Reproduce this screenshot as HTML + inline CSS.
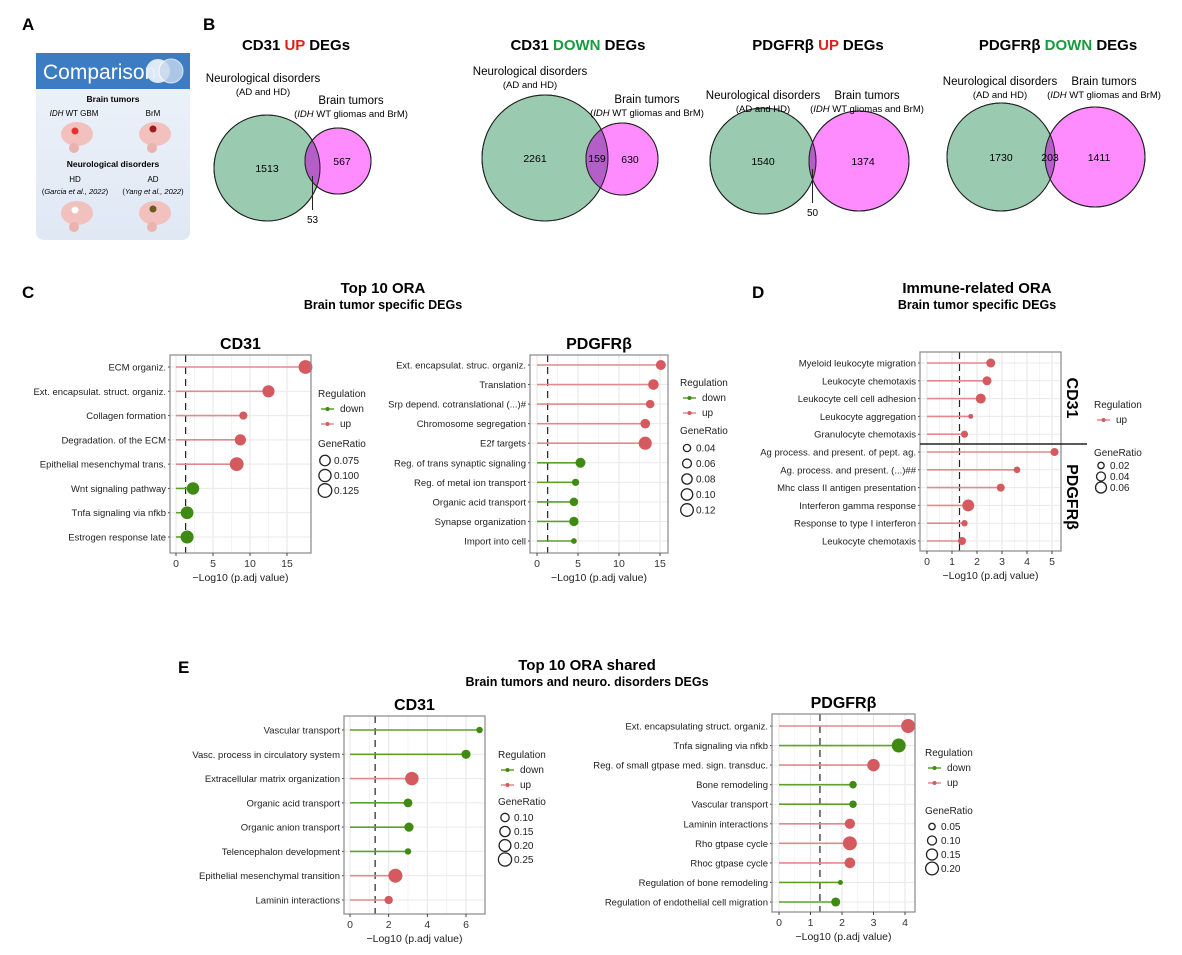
<!DOCTYPE html>
<html><head><meta charset="utf-8">
<style>
html,body{margin:0;padding:0;background:#fff;}
svg{display:block;font-family:"Liberation Sans",Arial,sans-serif;}
</style></head>
<body>
<svg id="fig" width="1182" height="955" viewBox="0 0 1182 955" xmlns="http://www.w3.org/2000/svg">
<defs>
<linearGradient id="abg" x1="0" y1="0" x2="0" y2="1"><stop offset="0" stop-color="#eef3fa"/><stop offset="1" stop-color="#dfe8f4"/></linearGradient>
</defs>
<!-- Panel A -->
<g>
<text x="22" y="30" font-size="17" font-weight="bold">A</text>
<rect x="36" y="53" width="154" height="187" rx="8" fill="url(#abg)"/>
<rect x="36" y="53" width="154" height="36" fill="#3b7cc3"/>
<text x="43" y="79" font-size="21" fill="#fff">Comparison</text>
<circle cx="158" cy="71" r="12" fill="#e8eef8" opacity="0.95"/><circle cx="171" cy="71" r="12" fill="#c9d9ee" opacity="0.8" stroke="#fff"/>
<text x="113" y="102" font-size="8.5" font-weight="bold" text-anchor="middle">Brain tumors</text>
<text x="74" y="116" font-size="8" text-anchor="middle"><tspan font-style="italic">IDH</tspan> WT GBM</text>
<text x="153" y="116" font-size="8" text-anchor="middle">BrM</text>
<g><ellipse cx="77" cy="134" rx="16" ry="12" fill="#f2c1bd"/><ellipse cx="74" cy="148" rx="5" ry="5" fill="#eab3ae"/><circle cx="75" cy="131" r="3.5" fill="#e53030"/></g>
<g><ellipse cx="155" cy="134" rx="16" ry="12" fill="#f2c1bd"/><ellipse cx="152" cy="148" rx="5" ry="5" fill="#eab3ae"/><circle cx="153" cy="129" r="3.5" fill="#a01c1c"/></g>
<text x="113" y="167" font-size="8.5" font-weight="bold" text-anchor="middle">Neurological disorders</text>
<text x="75" y="182" font-size="8" text-anchor="middle">HD</text>
<text x="75" y="194" font-size="7.5" text-anchor="middle">(<tspan font-style="italic">Garcia et al., 2022</tspan>)</text>
<text x="153" y="182" font-size="8" text-anchor="middle">AD</text>
<text x="153" y="194" font-size="7.5" text-anchor="middle">(<tspan font-style="italic">Yang et al., 2022</tspan>)</text>
<g><ellipse cx="77" cy="213" rx="16" ry="12" fill="#f2c1bd"/><ellipse cx="74" cy="227" rx="5" ry="5" fill="#eab3ae"/><circle cx="75" cy="210" r="3.5" fill="#fff"/></g>
<g><ellipse cx="155" cy="213" rx="16" ry="12" fill="#f2c1bd"/><ellipse cx="152" cy="227" rx="5" ry="5" fill="#eab3ae"/><circle cx="153" cy="209" r="3.5" fill="#6b5a1a"/></g>
</g>
<g id="venns">
<text x="203" y="30" font-size="17" font-weight="bold">B</text>
</g>
<g id="plots"></g>
</svg>
<script>
const NS='http://www.w3.org/2000/svg';
const svg=document.getElementById('fig');
function el(tag,attrs,parent,txt){const e=document.createElementNS(NS,tag);for(const k in attrs)e.setAttribute(k,attrs[k]);if(txt!==undefined)e.textContent=txt;(parent||svg).appendChild(e);return e;}

/* ---------- Venn data ---------- */
const vennTitles=['CD31','CD31','PDGFRβ','PDGFRβ'];
const vennDir=['UP','DOWN','UP','DOWN'];
const vennNeuro=[1513,2261,1540,1730];
const vennShared=[53,159,50,203];
const vennTumor=[567,630,1374,1411];

const vennLayout=[
 {tx:296,ty:50,g:[267,168,53],p:[338,161,33],nl:[263,82],bl:[351,104],callout:true},
 {tx:578,ty:50,g:[545,158,63],p:[622,159,36],nl:[530,75],bl:[647,103],callout:false},
 {tx:818,ty:50,g:[763,161,53],p:[859,161,50],nl:[763,99],bl:[867,99],callout:true},
 {tx:1058,ty:50,g:[1001,157,54],p:[1095,157,50],nl:[1000,85],bl:[1104,85],callout:false}
];
const vg=document.getElementById('venns');
vennTitles.forEach((t,i)=>{
  const L=vennLayout[i];
  const g=el('g',{},vg);
  
  
  const tt=el('text',{x:L.tx,y:L.ty,'font-size':15,'font-weight':'bold','text-anchor':'middle'},g);
  
  
  el('tspan',{},tt,t+' ');
  el('tspan',{fill:vennDir[i]==='UP'?'#e0201c':'#1a9a40'},tt,vennDir[i]);
  el('tspan',{},tt,' DEGs');
  const c1=el('circle',{cx:L.g[0],cy:L.g[1],r:L.g[2],fill:'#8fc4a6',stroke:'#222','stroke-width':1,'fill-opacity':0.9},g);
  
  
  const c2=el('circle',{cx:L.p[0],cy:L.p[1],r:L.p[2],fill:'#ff66ff',stroke:'#222','stroke-width':1,'fill-opacity':0.75},g);
  
  
  // overlap region via clip
  const cid='clip'+i;
  const cp=el('clipPath',{id:cid},g);el('circle',{cx:L.g[0],cy:L.g[1],r:L.g[2]},cp);
  el('circle',{cx:L.p[0],cy:L.p[1],r:L.p[2],fill:'#b45ec8','clip-path':'url(#'+cid+')',stroke:'none'},g);
  el('circle',{cx:L.g[0],cy:L.g[1],r:L.g[2],fill:'none',stroke:'#222'},g);
  el('circle',{cx:L.p[0],cy:L.p[1],r:L.p[2],fill:'none',stroke:'#222'},g);
  el('text',{x:L.nl[0],y:L.nl[1],'font-size':11.5,'text-anchor':'middle'},g,'Neurological disorders');
  el('text',{x:L.nl[0],y:L.nl[1]+13,'font-size':9.5,'text-anchor':'middle'},g,'(AD and HD)');
  el('text',{x:L.bl[0],y:L.bl[1],'font-size':11.5,'text-anchor':'middle'},g,'Brain tumors');
  const it=el('text',{x:L.bl[0],y:L.bl[1]+13,'font-size':9.5,'text-anchor':'middle'},g);
  el('tspan',{},it,'(');el('tspan',{'font-style':'italic'},it,'IDH');el('tspan',{},it,' WT gliomas and BrM)');
  const gx=L.g[0]-L.g[2]*0.35, px=L.p[0]+L.p[2]*0.1;
  el('text',{x:L.g[0]-(i===1?10:0),y:L.g[1]+4,'font-size':10.5,'text-anchor':'middle'},g,vennNeuro[i]);
  el('text',{x:L.p[0]+(i===1?8:4),y:L.p[1]+4,'font-size':10.5,'text-anchor':'middle'},g,vennTumor[i]);
  const ox=(L.g[0]+L.g[2]+L.p[0]-L.p[2])/2;
  if(L.callout){
    el('line',{x1:ox,y1:L.g[1]+8,x2:ox,y2:L.g[1]+42,stroke:'#222','stroke-width':1},g);
    el('text',{x:ox,y:L.g[1]+55,'font-size':10,'text-anchor':'middle'},g,vennShared[i]);
  } else {
    el('text',{x:ox,y:L.g[1]+4,'font-size':10.5,'text-anchor':'middle'},g,vennShared[i]);
  }
});

/* ---------- Lollipop data ---------- */
const cCd31Terms=['ECM organiz.','Ext. encapsulat. struct. organiz.','Collagen formation','Degradation. of the ECM','Epithelial mesenchymal trans.','Wnt signaling pathway','Tnfa signaling via nfkb','Estrogen response late'];
const cCd31Values=[17.5,12.5,9.1,8.7,8.2,2.3,1.5,1.5];
const cCd31Ratio=[0.13,0.10,0.045,0.085,0.13,0.105,0.11,0.115];
const cCd31Reg=['up','up','up','up','up','down','down','down'];
const cCd31Ticks=[0,5,10,15];
const cCd31LegendRatio=[0.075,0.100,0.125];

const cPdgTerms=['Ext. encapsulat. struc. organiz.','Translation','Srp depend. cotranslational (...)#','Chromosome segregation','E2f targets','Reg. of trans synaptic signaling','Reg. of metal ion transport','Organic acid transport','Synapse organization','Import into cell'];
const cPdgValues=[15.1,14.2,13.8,13.2,13.2,5.3,4.7,4.5,4.5,4.5];
const cPdgRatio=[0.075,0.085,0.055,0.07,0.13,0.075,0.04,0.055,0.065,0.025];
const cPdgReg=['up','up','up','up','up','down','down','down','down','down'];
const cPdgTicks=[0,5,10,15];
const cPdgLegendRatio=[0.04,0.06,0.08,0.10,0.12];

const dTerms=['Myeloid leukocyte migration','Leukocyte chemotaxis','Leukocyte cell cell adhesion','Leukocyte aggregation','Granulocyte chemotaxis','Ag process. and present. of pept. ag.','Ag. process. and present. (...)##','Mhc class II antigen presentation','Interferon gamma response','Response to type I interferon','Leukocyte chemotaxis'];
const dValues=[2.55,2.4,2.15,1.75,1.5,5.1,3.6,2.95,1.65,1.5,1.4];
const dRatio=[0.04,0.04,0.05,0.012,0.025,0.032,0.022,0.032,0.07,0.02,0.032];
const dReg=['up','up','up','up','up','up','up','up','up','up','up'];
const dTicks=[0,1,2,3,4,5];
const dLegendRatio=[0.02,0.04,0.06];

const eCd31Terms=['Vascular transport','Vasc. process in circulatory system','Extracellular matrix organization','Organic acid transport','Organic anion transport','Telencephalon development','Epithelial mesenchymal transition','Laminin interactions'];
const eCd31Values=[6.7,6.0,3.2,3.0,3.05,3.0,2.35,2.0];
const eCd31Ratio=[0.06,0.12,0.26,0.11,0.12,0.06,0.28,0.1];
const eCd31Reg=['down','down','up','down','down','down','up','up'];
const eCd31Ticks=[0,2,4,6];
const eCd31LegendRatio=[0.10,0.15,0.20,0.25];

const ePdgTerms=['Ext. encapsulating struct. organiz.','Tnfa signaling via nfkb','Reg. of small gtpase med. sign. transduc.','Bone remodeling','Vascular transport','Laminin interactions','Rho gtpase cycle','Rhoc gtpase cycle','Regulation of bone remodeling','Regulation of endothelial cell migration'];
const ePdgValues=[4.1,3.8,3.0,2.35,2.35,2.25,2.25,2.25,1.95,1.8];
const ePdgRatio=[0.24,0.24,0.19,0.07,0.07,0.13,0.24,0.14,0.03,0.1];
const ePdgReg=['up','down','up','down','down','up','up','up','down','down'];
const ePdgTicks=[0,1,2,3,4];
const ePdgLegendRatio=[0.05,0.10,0.15,0.20];

const UPC='#d45a5f', DNC='#3f8a12', UPL='#e08a8d', DNL='#5da02a';

function lollipop(o){
  const g=el('g',{});
  
  
  const xs=v=>o.x0+(v-o.dmin)/(o.dmax-o.dmin)*(o.x1-o.x0);
  const n=o.terms.length;
  const ys=i=>o.yFirst+i*(o.yLast-o.yFirst)/(n-1);
  const rs=v=>o.rmax*Math.sqrt(v/o.vmax);
  el('rect',{x:o.bx0,y:o.by0,width:o.bx1-o.bx0,height:o.by1-o.by0,fill:'#fff'},g);
  // grid
  for(let k=0;k<o.ticks.length;k++){
    const t=o.ticks[k];
    el('line',{x1:xs(t),x2:xs(t),y1:o.by0,y2:o.by1,stroke:'#e6e6e6','stroke-width':1},g);
    if(k<o.ticks.length-1){const m=(t+o.ticks[k+1])/2;el('line',{x1:xs(m),x2:xs(m),y1:o.by0,y2:o.by1,stroke:'#f1f1f1','stroke-width':0.8},g);}
  }
  for(let i=0;i<n;i++) el('line',{x1:o.bx0,x2:o.bx1,y1:ys(i),y2:ys(i),stroke:'#e9e9e9','stroke-width':1},g);
  // dashed threshold
  const dl=el('line',{x1:xs(1.3),x2:xs(1.3),y1:o.by0,y2:o.by1,stroke:'#222','stroke-width':1.2,'stroke-dasharray':'7,5'},g);
  
  
  for(let i=0;i<n;i++){
    const up=o.reg[i]==='up';
    const ln=el('line',{x1:xs(0),x2:xs(o.values[i]),y1:ys(i),y2:ys(i),stroke:up?UPL:DNL,'stroke-width':1.6},g);
    
    
    const c=el('circle',{cx:xs(o.values[i]),cy:ys(i),r:rs(o.ratio[i]),fill:up?UPC:DNC},g);
    
    
    const lb=el('text',{x:o.bx0-4,y:ys(i)+3.5,'font-size':o.fs,'text-anchor':'end',fill:'#222'},g,o.terms[i]);
    
    
    el('line',{x1:o.bx0-2,x2:o.bx0,y1:ys(i),y2:ys(i),stroke:'#444'},g);
  }
  el('rect',{x:o.bx0,y:o.by0,width:o.bx1-o.bx0,height:o.by1-o.by0,fill:'none',stroke:'#888','stroke-width':1.2},g);
  if(o.divider!==undefined){
    const dv=el('line',{x1:o.bx0,x2:o.bx1+26,y1:o.divider,y2:o.divider,stroke:'#222','stroke-width':1.5},g);
    
    
  }
  o.ticks.forEach(t=>{
    el('line',{x1:xs(t),x2:xs(t),y1:o.by1,y2:o.by1+3,stroke:'#444'},g);
    const tl=el('text',{x:xs(t),y:o.by1+14,'font-size':10.5,'text-anchor':'middle',fill:'#333'},g,t);
    
    
  });
  const xt=el('text',{x:(o.bx0+o.bx1)/2,y:o.by1+28,'font-size':10.5,'text-anchor':'middle',fill:'#222'},g,'\u2212Log10 (p.adj value)');
  
  
  if(o.title){
    const tt=el('text',{x:(o.bx0+o.bx1)/2,y:o.by0-6,'font-size':16,'font-weight':'bold','text-anchor':'middle'},g,o.title);
    
    
  }
  // legend
  const L=o.leg;
  const lg=el('g',{},g);
  
  
  el('text',{x:L.x,y:L.y,'font-size':10,fill:'#222'},lg,'Regulation');
  let yy=L.y+15;
  o.legRegs.forEach(r=>{
    const col=r==='up'?UPL:DNL, pc=r==='up'?UPC:DNC;
    el('line',{x1:L.x+3,x2:L.x+16,y1:yy-3,y2:yy-3,stroke:col,'stroke-width':1.5},lg);
    el('circle',{cx:L.x+9.5,cy:yy-3,r:2,fill:pc},lg);
    const e=el('text',{x:L.x+22,y:yy,'font-size':10,fill:'#222'},lg,r);
    
    
    yy+=15;
  });
  yy+=L.gap;
  el('text',{x:L.x,y:yy,'font-size':10,fill:'#222'},lg,'GeneRatio');
  yy+=L.step+2;
  o.legRatio.forEach(v=>{
    el('circle',{cx:L.x+7,cy:yy-3.5,r:rs(v),fill:'none',stroke:'#222','stroke-width':1.3},lg);
    const e=el('text',{x:L.x+16,y:yy,'font-size':10,fill:'#222'},lg,o.legFmt?v.toFixed(o.legFmt):v);
    
    
    yy+=L.step;
  });
  return g;
}

function txt(x,y,s,fs,w,name,anchor){const t=el('text',{x:x,y:y,'font-size':fs,'font-weight':w||'normal','text-anchor':anchor||'middle'},svg,s);
  
  return t;}

// Panel C
txt(22,298,'C',17,'bold','panel-label-c','start');
txt(383,293,'Top 10 ORA',15,'bold','panel-c-title');
txt(383,309,'Brain tumor specific DEGs',12.5,'bold','panel-c-subtitle');
lollipop({name:'c-cd31-plot',title:'CD31',terms:cCd31Terms,values:cCd31Values,ratio:cCd31Ratio,reg:cCd31Reg,ticks:cCd31Ticks,legRatio:cCd31LegendRatio,legFmt:3,legRegs:['down','up'],
 bx0:170,bx1:311,by0:355,by1:553,dmin:0,dmax:15,x0:176,x1:287,yFirst:367,yLast:537,vmax:0.125,rmax:6.8,fs:9.5,
 leg:{x:318,y:397,gap:5,step:15}});
lollipop({name:'c-pdgfrb-plot',title:'PDGFRβ',terms:cPdgTerms,values:cPdgValues,ratio:cPdgRatio,reg:cPdgReg,ticks:cPdgTicks,legRatio:cPdgLegendRatio,legFmt:2,legRegs:['down','up'],
 bx0:530,bx1:668,by0:355,by1:553,dmin:0,dmax:15,x0:537,x1:660,yFirst:365,yLast:541,vmax:0.12,rmax:6.3,fs:9.5,
 leg:{x:680,y:386,gap:3,step:15.5}});

// Panel D
txt(752,298,'D',17,'bold','panel-label-d','start');
txt(977,293,'Immune-related ORA',15,'bold','panel-d-title');
txt(977,309,'Brain tumor specific DEGs',12.5,'bold','panel-d-subtitle');
lollipop({name:'d-immune-plot',terms:dTerms,values:dValues,ratio:dRatio,reg:dReg,ticks:dTicks,legRatio:dLegendRatio,legFmt:2,legRegs:['up'],
 bx0:920,bx1:1061,by0:352,by1:551,dmin:0,dmax:5,x0:927,x1:1052,yFirst:363,yLast:541,vmax:0.06,rmax:5.5,fs:9.5,divider:444,
 leg:{x:1094,y:408,gap:18,step:11}});
(function(){const a=el('text',{x:0,y:0,'font-size':16,'font-weight':'bold','text-anchor':'middle',transform:'translate(1067,398) rotate(90)'},svg,'CD31');


const b=el('text',{x:0,y:0,'font-size':16,'font-weight':'bold','text-anchor':'middle',transform:'translate(1067,497) rotate(90)'},svg,'PDGFRβ');

})();

// Panel E
txt(178,673,'E',17,'bold','panel-label-e','start');
txt(587,670,'Top 10 ORA shared',15,'bold','panel-e-title');
txt(587,686,'Brain tumors and neuro. disorders DEGs',12.5,'bold','panel-e-subtitle');
lollipop({name:'e-cd31-plot',title:'CD31',terms:eCd31Terms,values:eCd31Values,ratio:eCd31Ratio,reg:eCd31Reg,ticks:eCd31Ticks,legRatio:eCd31LegendRatio,legFmt:2,legRegs:['down','up'],
 bx0:344,bx1:485,by0:716,by1:914,dmin:0,dmax:6,x0:350,x1:466,yFirst:730,yLast:900,vmax:0.28,rmax:7,fs:9.5,
 leg:{x:498,y:758,gap:2,step:14}});
lollipop({name:'e-pdgfrb-plot',title:'PDGFRβ',terms:ePdgTerms,values:ePdgValues,ratio:ePdgRatio,reg:ePdgReg,ticks:ePdgTicks,legRatio:ePdgLegendRatio,legFmt:2,legRegs:['down','up'],
 bx0:772,bx1:915,by0:714,by1:912,dmin:0,dmax:4,x0:779,x1:905,yFirst:726,yLast:902,vmax:0.24,rmax:7,fs:9.5,
 leg:{x:925,y:756,gap:13,step:14}});
</script>
</body></html>
